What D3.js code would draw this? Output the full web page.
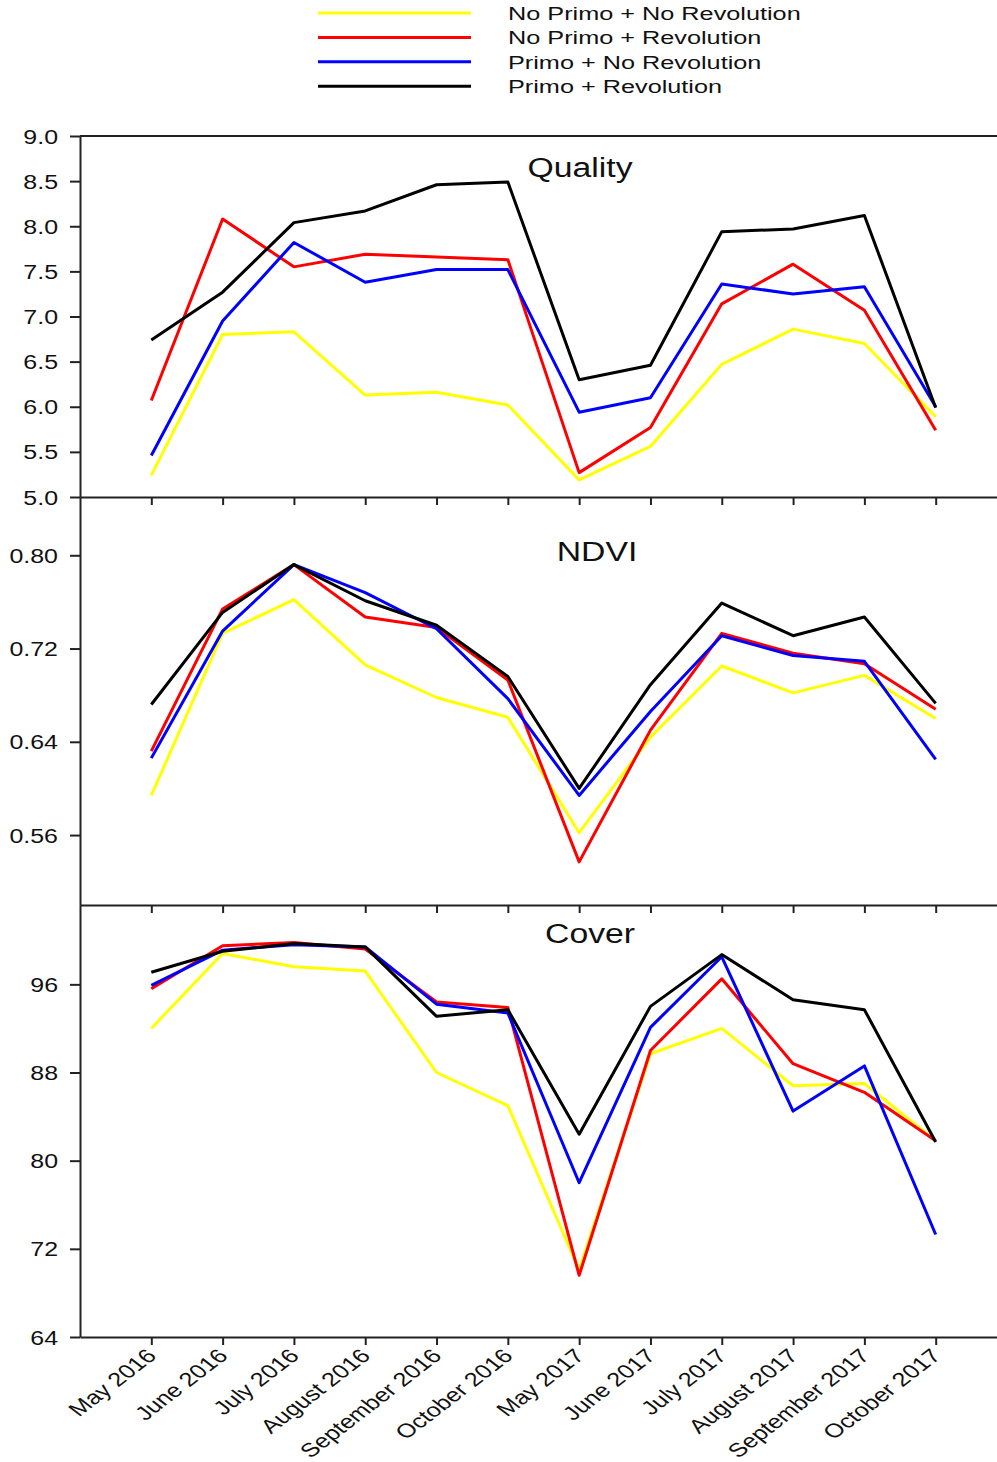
<!DOCTYPE html>
<html>
<head>
<meta charset="utf-8">
<script src="https://cdn.jsdelivr.net/npm/d3@7"></script>
<style>
body { margin: 0; background: #fff; }
svg { display: block; font-family: "Liberation Sans", Arial, sans-serif; }
</style>
</head>
<body>
<div id="chart"></div>
<script>
// months on the x axis
var months = ["May 2016", "June 2016", "July 2016", "August 2016", "September 2016", "October 2016",
  "May 2017", "June 2017", "July 2017", "August 2017", "September 2017", "October 2017"];

var seriesNames = ["No Primo + No Revolution", "No Primo + Revolution", "Primo + No Revolution", "Primo + Revolution"];
var seriesColors = ["#ffff00", "#ff0000", "#0000ff", "#000000"];

// Quality
var qualityNoPrimoNoRev = [5.24, 6.80, 6.83, 6.13, 6.16, 6.02, 5.19, 5.56, 6.47, 6.86, 6.70, 5.89];
var qualityNoPrimoRev   = [6.07, 8.08, 7.55, 7.69, 7.66, 7.63, 5.27, 5.77, 7.14, 7.58, 7.07, 5.74];
var qualityPrimoNoRev   = [5.46, 6.95, 7.82, 7.38, 7.52, 7.52, 5.94, 6.10, 7.36, 7.25, 7.33, 6.00];
var qualityPrimoRev     = [6.74, 7.27, 8.04, 8.17, 8.46, 8.49, 6.30, 6.46, 7.94, 7.97, 8.12, 5.99];

// NDVI
var ndviNoPrimoNoRev = [0.594, 0.733, 0.762, 0.706, 0.678, 0.661, 0.562, 0.644, 0.705, 0.682, 0.697, 0.660];
var ndviNoPrimoRev   = [0.632, 0.754, 0.792, 0.747, 0.738, 0.693, 0.537, 0.650, 0.733, 0.716, 0.707, 0.668];
var ndviPrimoNoRev   = [0.626, 0.735, 0.792, 0.768, 0.737, 0.677, 0.594, 0.666, 0.731, 0.714, 0.709, 0.625];
var ndviPrimoRev     = [0.672, 0.751, 0.792, 0.761, 0.740, 0.696, 0.600, 0.689, 0.759, 0.731, 0.747, 0.673];

// Cover
var coverNoPrimoNoRev = [92.0, 98.8, 97.6, 97.2, 88.0, 85.0, 70.1, 89.7, 92.0, 86.8, 87.0, 81.8];
var coverNoPrimoRev   = [95.6, 99.5, 99.8, 99.2, 94.4, 93.9, 69.6, 90.0, 96.5, 88.8, 86.2, 81.8];
var coverPrimoNoRev   = [95.9, 99.1, 99.6, 99.4, 94.2, 93.4, 78.0, 92.1, 98.5, 84.5, 88.6, 73.3];
var coverPrimoRev     = [97.1, 99.0, 99.7, 99.4, 93.1, 93.7, 82.4, 94.0, 98.7, 94.6, 93.7, 81.7];

var qualityTicks = [5.0, 5.5, 6.0, 6.5, 7.0, 7.5, 8.0, 8.5, 9.0];
var ndviTicks = [0.56, 0.64, 0.72, 0.80];
var coverTicks = [64, 72, 80, 88, 96];

var width = 997, height = 1462;
var left = 80, right = 1007;
var sx = 1.28; // the figure text is drawn wide

var svg = d3.select("#chart")
  .append("svg")
  .attr("width", width)
  .attr("height", height);

var x = d3.scalePoint()
  .domain(months)
  .range([left, right])
  .padding(1);

var panels = [
  { title: "Quality", titleX: 580, titleY: 177, top: 136, bottom: 497, domain: [5, 9], ticks: qualityTicks, fmt: ".1f",
    data: [qualityNoPrimoNoRev, qualityNoPrimoRev, qualityPrimoNoRev, qualityPrimoRev] },
  { title: "NDVI", titleX: 597, titleY: 561, top: 497, bottom: 905, domain: [0.50, 0.85], ticks: ndviTicks, fmt: ".2f",
    data: [ndviNoPrimoNoRev, ndviNoPrimoRev, ndviPrimoNoRev, ndviPrimoRev] },
  { title: "Cover", titleX: 590, titleY: 943, top: 905, bottom: 1337, domain: [64, 103.2], ticks: coverTicks, fmt: "d",
    data: [coverNoPrimoNoRev, coverNoPrimoRev, coverPrimoNoRev, coverPrimoRev] }
];

panels.forEach(function(p, pi) {
  var y = d3.scaleLinear().domain(p.domain).range([p.bottom, p.top]);
  var g = svg.append("g");

  var line = d3.line()
    .x(function(d, i) { return x(months[i]); })
    .y(function(d) { return y(d); });

  p.data.forEach(function(vals, si) {
    g.append("path")
      .datum(vals)
      .attr("fill", "none")
      .attr("stroke", seriesColors[si])
      .attr("stroke-width", 3)
      .attr("stroke-linejoin", "round")
      .attr("d", line);
  });

  // left axis
  var ya = g.append("g")
    .attr("transform", "translate(" + left + ",0)")
    .call(d3.axisLeft(y).tickValues(p.ticks).tickFormat(d3.format(p.fmt)).tickSize(10).tickSizeOuter(0));
  ya.select(".domain").attr("stroke", "#222").attr("stroke-width", 2);
  ya.selectAll(".tick line").attr("stroke", "#222").attr("stroke-width", 2);
  ya.selectAll(".tick text")
    .attr("x", 0)
    .attr("dy", "0.36em")
    .attr("transform", "translate(-22,0) scale(" + sx + ",1)")
    .attr("font-size", 19.5)
    .attr("fill", "#111");

  // bottom axis with outward ticks
  var xa = g.append("g")
    .attr("transform", "translate(0," + p.bottom + ")")
    .call(d3.axisBottom(x).tickSize(8).tickSizeOuter(0));
  xa.select(".domain").attr("stroke", "#222").attr("stroke-width", 2);
  xa.selectAll(".tick line").attr("stroke", "#222").attr("stroke-width", 2);
  if (pi < 2) {
    xa.selectAll(".tick text").remove();
  } else {
    // slanted month labels
    xa.selectAll(".tick text")
      .attr("x", 0).attr("y", 0).attr("dy", 0)
      .attr("text-anchor", "end")
      .attr("font-size", 19.5)
      .attr("fill", "#111")
      .attr("transform", "translate(6,20) scale(1.3,1) rotate(-45)");
  }

  // top frame on first panel
  if (pi === 0) {
    g.append("line")
      .attr("x1", left).attr("x2", right)
      .attr("y1", p.top).attr("y2", p.top)
      .attr("stroke", "#222")
      .attr("stroke-width", 2);
  }

  g.append("text")
    .attr("text-anchor", "middle")
    .attr("font-size", 27)
    .attr("fill", "#111")
    .attr("transform", "translate(" + p.titleX + "," + p.titleY + ") scale(1.25,1)")
    .text(p.title);
});

// legend
var legend = svg.append("g");
seriesNames.forEach(function(name, i) {
  var ly = 13 + i * 24.4;
  legend.append("line")
    .attr("x1", 318).attr("x2", 471)
    .attr("y1", ly).attr("y2", ly)
    .attr("stroke", seriesColors[i])
    .attr("stroke-width", 3);
  legend.append("text")
    .attr("transform", "translate(508," + (ly + 7) + ") scale(1.33,1)")
    .attr("font-size", 19)
    .attr("fill", "#111")
    .text(name);
});
</script>
</body>
</html>
